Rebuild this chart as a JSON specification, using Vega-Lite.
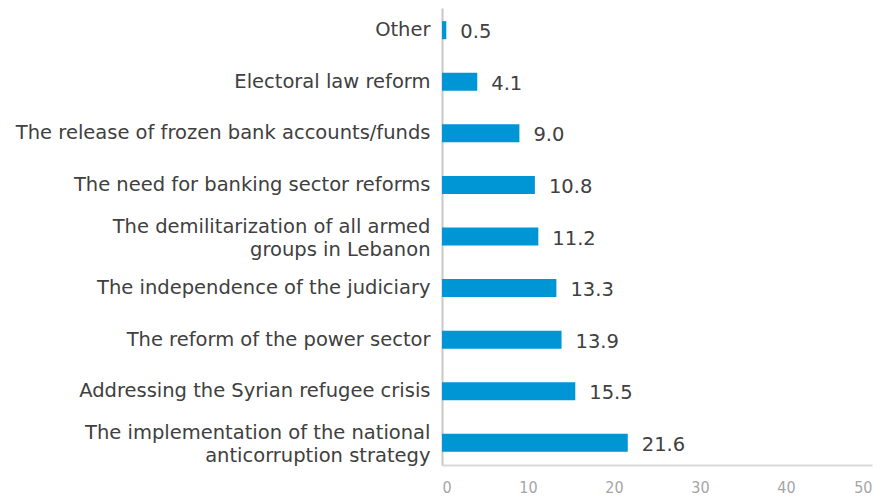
{
  "$schema": "https://vega.github.io/schema/vega-lite/v6.json",
  "autosize": {"type": "none"},
  "width": 430,
  "height": 457,
  "padding": {"left": 442, "top": 8, "right": 14, "bottom": 31},
  "background": "white",
  "data": {"values": [
    {"issue": "Other", "pct": 0.5},
    {"issue": "Electoral law reform", "pct": 4.1},
    {"issue": "The release of frozen bank accounts/funds", "pct": 9.0},
    {"issue": "The need for banking sector reforms", "pct": 10.8},
    {"issue": "The demilitarization of all armed groups in Lebanon", "pct": 11.2},
    {"issue": "The independence of the judiciary", "pct": 13.3},
    {"issue": "The reform of the power sector", "pct": 13.9},
    {"issue": "Addressing the Syrian refugee crisis", "pct": 15.5},
    {"issue": "The implementation of the national anticorruption strategy", "pct": 21.6}
  ]},
  "encoding": {
    "y": {"field": "issue", "type": "nominal", "sort": null,
      "scale": {"paddingInner": 0.65, "paddingOuter": 0.255},
      "axis": {"title": null, "ticks": false, "domainColor": "#c8c8c8", "domainWidth": 2,
        "labelFont": "DejaVu Sans", "labelFontSize": 19.5, "labelColor": "#404040",
        "labelPadding": 12, "labelLimit": 0, "labelLineHeight": 23,
        "labelOffset": {"condition": {"test": "datum.value == 'The demilitarization of all armed groups in Lebanon' || datum.value == 'The implementation of the national anticorruption strategy'", "value": -10}, "value": 0},
        "labelExpr": "datum.value == 'The demilitarization of all armed groups in Lebanon' ? ['The demilitarization of all armed', 'groups in Lebanon'] : datum.value == 'The implementation of the national anticorruption strategy' ? ['The implementation of the national', 'anticorruption strategy'] : datum.value"}},
    "x": {"field": "pct", "type": "quantitative",
      "scale": {"domain": [0, 50]},
      "axis": {"title": null, "ticks": false, "grid": false, "values": [0, 10, 20, 30, 40, 50],
        "domainColor": "#d9d9d9", "domainWidth": 2,
        "labelFont": "DejaVu Sans Condensed", "labelFontSize": 16, "labelColor": "#a6a6a6",
        "labelPadding": 14}}
  },
  "layer": [
    {"mark": {"type": "bar", "color": "#0095d5"}},
    {"mark": {"type": "text", "align": "left", "dx": 14, "dy": 2, "font": "DejaVu Sans", "fontSize": 19.5, "color": "#404040"},
     "encoding": {"text": {"field": "pct", "type": "quantitative", "format": ".1f"}}}
  ],
  "config": {"view": {"stroke": null}}
}
